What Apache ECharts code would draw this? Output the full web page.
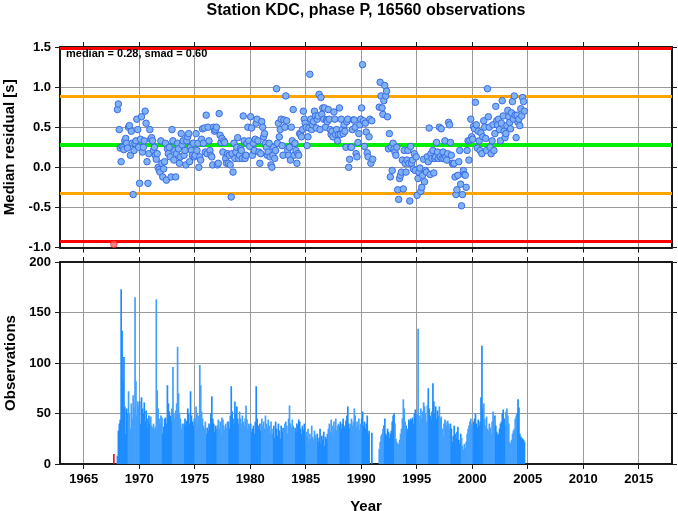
<!DOCTYPE html>
<html><head><meta charset="utf-8">
<script src="https://cdn.jsdelivr.net/npm/echarts@6/dist/echarts.min.js"></script>
<style>html,body{margin:0;padding:0;background:#fff}#c{width:678px;height:511px}</style>
</head><body><div id="c"></div>
<script>
// ---------- data ----------
const firstYear = 1968;
// monthly observation counts, one row per year (1968 .. 2004)
const obsCounts = [
  [8, 33, 40, 44, 173, 132, 82, 106, 57, 30, 55, 50],
  [72, 50, 35, 60, 45, 68, 56, 165, 82, 48, 62, 58],
  [62, 40, 66, 55, 50, 61, 42, 53, 36, 45, 48, 40],
  [47, 38, 36, 40, 35, 37, 163, 73, 55, 45, 40, 48],
  [46, 30, 37, 45, 46, 40, 78, 60, 52, 48, 42, 55],
  [96, 50, 45, 53, 60, 116, 70, 51, 45, 35, 40, 38],
  [40, 45, 38, 43, 55, 50, 40, 72, 48, 42, 38, 45],
  [45, 57, 50, 40, 48, 98, 78, 52, 45, 38, 35, 42],
  [30, 36, 33, 40, 38, 50, 67, 45, 40, 32, 38, 35],
  [38, 44, 35, 42, 30, 46, 44, 38, 34, 40, 36, 42],
  [42, 35, 48, 77, 52, 45, 40, 62, 50, 57, 45, 40],
  [52, 45, 40, 48, 42, 38, 45, 58, 44, 35, 40, 38],
  [40, 32, 35, 38, 30, 42, 77, 45, 38, 35, 40, 33],
  [45, 38, 42, 35, 48, 40, 36, 44, 38, 30, 42, 35],
  [30, 38, 26, 42, 35, 28, 40, 33, 25, 38, 32, 36],
  [35, 40, 42, 38, 30, 45, 58, 40, 36, 44, 38, 32],
  [36, 32, 40, 38, 44, 42, 35, 30, 38, 34, 40, 28],
  [32, 28, 35, 22, 30, 25, 38, 27, 24, 33, 29, 26],
  [30, 22, 26, 35, 20, 28, 24, 32, 18, 27, 25, 30],
  [35, 40, 32, 44, 38, 30, 42, 36, 45, 33, 38, 40],
  [38, 42, 35, 40, 45, 36, 38, 43, 48, 57, 40, 35],
  [40, 45, 38, 42, 55, 48, 36, 42, 38, 45, 34, 40],
  [45, 52, 38, 42, 35, 40, 48, 30, 33, 0, 0, 31],
  [0, 0, 0, 0, 0, 0, 0, 15, 22, 28, 30, 35],
  [38, 45, 30, 28, 35, 32, 26, 30, 33, 42, 48, 50],
  [40, 25, 22, 20, 20, 24, 30, 35, 45, 64, 55, 42],
  [38, 32, 35, 44, 42, 45, 43, 46, 40, 50, 54, 48],
  [50, 134, 48, 40, 55, 45, 52, 61, 57, 50, 42, 58],
  [75, 55, 48, 44, 52, 80, 62, 50, 57, 45, 53, 48],
  [57, 45, 47, 35, 28, 40, 44, 42, 38, 43, 40, 36],
  [40, 35, 22, 28, 38, 30, 25, 32, 37, 24, 20, 30],
  [26, 18, 14, 20, 16, 22, 30, 35, 38, 42, 45, 40],
  [38, 42, 45, 50, 40, 36, 44, 38, 42, 66, 117, 55],
  [60, 45, 38, 47, 35, 33, 40, 36, 30, 42, 52, 45],
  [48, 38, 32, 29, 30, 35, 40, 42, 50, 54, 45, 38],
  [52, 55, 48, 40, 22, 20, 24, 30, 33, 35, 45, 48],
  [50, 64, 56, 30, 27, 26, 25, 24, 22]
];
// monthly median residuals [s], one row per year (1968 .. 2004); null = no value
const residuals = [
  [0.72, 0.79, 0.47, 0.24, 0.07, 0.26, 0.25, 0.22, 0.33, 0.36, 0.30, 0.24],
  [0.50, 0.52, 0.15, 0.45, 0.30, -0.34, 0.21, 0.30, 0.33, 0.60, 0.47, 0.25],
  [-0.20, 0.35, 0.63, 0.19, 0.25, 0.33, 0.70, 0.55, 0.07, -0.20, 0.17, 0.47],
  [0.35, 0.37, 0.33, 0.21, 0.25, 0.15, 0.10, 0.17, 0.00, -0.03, -0.06, 0.33],
  [0.05, -0.12, -0.02, 0.07, 0.30, -0.16, 0.23, 0.17, 0.25, 0.13, -0.12, 0.47],
  [0.33, 0.09, 0.21, -0.12, 0.17, 0.30, 0.23, 0.05, 0.13, 0.42, 0.28, 0.33],
  [0.15, 0.21, 0.03, 0.33, 0.38, 0.42, 0.07, 0.25, 0.21, 0.15, 0.30, 0.13],
  [0.15, 0.42, 0.21, 0.30, 0.00, 0.13, 0.09, 0.35, 0.48, 0.30, 0.49, 0.19],
  [0.65, 0.17, 0.50, 0.33, 0.21, 0.15, 0.13, 0.03, 0.50, 0.45, 0.47, 0.50],
  [0.03, 0.05, 0.67, 0.40, 0.31, 0.36, 0.19, 0.33, 0.31, 0.11, 0.05, 0.17],
  [0.05, 0.15, 0.03, -0.37, 0.17, -0.06, 0.30, 0.11, 0.19, 0.25, 0.37, 0.11],
  [0.15, 0.23, 0.21, 0.11, 0.64, 0.33, 0.11, 0.15, 0.30, 0.50, 0.33, 0.26],
  [0.63, 0.49, 0.15, 0.30, 0.21, 0.35, 0.55, 0.60, 0.33, 0.19, 0.05, 0.17],
  [0.57, 0.50, 0.38, 0.42, 0.30, 0.25, 0.15, 0.19, 0.30, 0.13, 0.03, 0.00],
  [0.15, 0.25, 0.11, 0.21, 0.98, 0.30, 0.55, 0.38, 0.47, 0.60, 0.27, 0.15],
  [0.59, 0.50, 0.89, 0.58, 0.21, 0.15, 0.25, 0.09, 0.50, 0.33, 0.72, 0.15],
  [0.30, 0.21, 0.05, 0.17, 0.15, 0.42, 0.41, 0.38, 0.47, 0.70, 0.60, 0.55],
  [0.50, 0.27, 0.38, 0.49, 1.16, 0.60, 0.47, 0.53, 0.57, 0.70, 0.64, 0.49],
  [0.60, 0.64, 0.91, 0.47, 0.87, 0.66, 0.74, 0.60, 0.74, 0.50, 0.59, 0.57],
  [0.72, 0.60, 0.47, 0.41, 0.45, 0.38, 0.69, 0.60, 0.41, 0.47, 0.33, 0.41],
  [0.74, 0.41, 0.60, 0.47, 0.42, 0.53, 0.45, 0.25, 0.57, 0.60, 0.00, 0.10],
  [0.25, 0.25, 0.47, 0.59, 0.59, 0.50, 0.17, 0.13, 0.31, 0.42, 0.53, 0.60],
  [0.74, 1.28, 0.58, 0.26, 0.55, 0.44, 0.18, 0.13, 0.38, 0.60, 0.05, 0.58],
  [0.10, null, null, null, null, null, null, 0.75, 1.06, 0.89, 0.74, 0.66],
  [0.83, 1.02, 0.89, 0.95, 0.63, 0.23, 0.42, -0.12, 0.25, -0.04, 0.30, 0.23],
  [0.19, 0.15, 0.25, -0.28, -0.40, -0.14, -0.10, -0.06, 0.09, -0.27, 0.21, 0.05],
  [-0.06, 0.09, 0.21, 0.05, -0.42, 0.26, 0.05, 0.09, -0.02, 0.17, -0.04, 0.13],
  [-0.35, -0.14, -0.06, -0.01, -0.30, -0.25, -0.10, 0.10, -0.18, -0.04, -0.06, 0.13],
  [0.07, 0.49, -0.09, 0.17, 0.11, 0.21, -0.07, 0.11, 0.13, 0.31, 0.19, 0.11],
  [0.50, 0.13, 0.48, 0.11, 0.19, 0.11, 0.33, 0.13, 0.09, 0.17, 0.56, 0.53],
  [0.31, 0.15, 0.05, 0.04, 0.05, -0.12, -0.34, -0.28, -0.10, 0.07, 0.21, -0.21],
  [-0.48, -0.34, -0.04, -0.09, -0.10, -0.25, 0.21, 0.33, 0.09, 0.34, 0.60, 0.38],
  [0.35, 0.51, 0.48, 0.81, 0.53, 0.24, 0.45, 0.33, 0.21, 0.43, 0.17, 0.38],
  [0.58, 0.50, 0.36, 0.21, 0.98, 0.63, 0.50, 0.25, 0.17, 0.33, 0.53, 0.21],
  [0.42, 0.76, 0.58, 0.53, 0.60, 0.47, 0.33, 0.55, 0.83, 0.64, 0.45, 0.37],
  [0.42, 0.52, 0.71, 0.63, 0.56, 0.48, 0.68, 0.82, 0.60, 0.89, 0.65, 0.37],
  [0.65, 0.56, 0.60, 0.52, 0.73, 0.64, 0.87, 0.82, 0.70]
];
// rejected (out-of-range) point
const outlierTime = 1967.72;
const outlierResidual = -0.96;
const outlierCount = 10;
// statistics
const medianValue = 0.28;
const smadValue = 0.60;
// axes
const tickYears = [1965, 1970, 1975, 1980, 1985, 1990, 1995, 2000, 2005, 2010, 2015];
const residTicks = [-1.0, -0.5, 0.0, 0.5, 1.0, 1.5];
const obsTicks = [0, 50, 100, 150, 200];
const xMin = 1962.87, xMax = 2018.0;

// ---------- build series data ----------
const barsDark = [], barsLight = [], points = [];
obsCounts.forEach((row, yi) => {
  row.forEach((v, m) => {
    const t = firstYear + yi + (m + 0.5) / 12;
    ((yi % 2 === 0) ? barsDark : barsLight).push([t, v]);
  });
});
residuals.forEach((row, yi) => {
  row.forEach((v, m) => {
    if (v !== null) points.push([firstYear + yi + (m + 0.5) / 12, v]);
  });
});

const FONT = 'Liberation Sans';
const frameLine = { show: true, onZero: false, lineStyle: { color: '#1a1a1a', width: 2 } };
const tickStyle = { show: true, length: 5, inside: false, lineStyle: { color: '#1a1a1a', width: 1 } };
const gridLine = { show: true, lineStyle: { color: '#9a9a9a', width: 1 } };
const lblStyle = { color: '#000', fontFamily: FONT, fontWeight: 'bold', fontSize: 13 };

function xAxes(gi, showLabels) {
  return [
    { gridIndex: gi, type: 'value', min: xMin, max: xMax, position: 'bottom',
      axisLine: frameLine,
      axisTick: Object.assign({ customValues: tickYears }, tickStyle),
      axisLabel: Object.assign({ show: showLabels, customValues: tickYears, margin: 9, formatter: v => String(Math.round(v)) }, lblStyle),
      splitLine: gridLine,
      name: showLabels ? 'Year' : '', nameLocation: 'middle', nameGap: 35,
      nameTextStyle: { color: '#000', fontFamily: FONT, fontWeight: 'bold', fontSize: 15 } },
    { gridIndex: gi, type: 'value', min: xMin, max: xMax, position: 'top',
      axisLine: frameLine,
      axisTick: Object.assign({ customValues: tickYears }, tickStyle),
      axisLabel: { show: false, customValues: tickYears },
      splitLine: { show: false } }
  ];
}
function yAxes(gi, min, max, interval, ticks, name, fmt) {
  return [
    { gridIndex: gi, type: 'value', min, max, interval, position: 'left',
      axisLine: frameLine, axisTick: tickStyle,
      axisLabel: Object.assign({ margin: 9, formatter: fmt }, lblStyle),
      splitLine: gridLine,
      name, nameLocation: 'middle', nameGap: 37, nameRotate: 90,
      nameTextStyle: { color: '#000', fontFamily: FONT, fontWeight: 'bold', fontSize: 15 } },
    { gridIndex: gi, type: 'value', min, max, interval, position: 'right',
      axisLine: frameLine, axisTick: tickStyle,
      axisLabel: { show: false }, splitLine: { show: false } }
  ];
}

const refLines = [
  { y: medianValue + 2 * smadValue, color: '#ff0000', w: 3 },
  { y: medianValue + smadValue, color: '#ffa500', w: 3 },
  { y: medianValue, color: '#00ee00', w: 4 },
  { y: medianValue - smadValue, color: '#ffa500', w: 3 },
  { y: medianValue - 2 * smadValue, color: '#ff0000', w: 3 }
];

const chart = echarts.init(document.getElementById('c'), null, { renderer: 'canvas' });
chart.setOption({
  animation: false,
  backgroundColor: '#fff',
  textStyle: { fontFamily: FONT },
  grid: [
    { left: 60, right: 6, top: 47, height: 200.5, containLabel: false, outerBoundsMode: 'none' },
    { left: 60, right: 6, top: 262, height: 202, containLabel: false, outerBoundsMode: 'none' }
  ],
  xAxis: [...xAxes(0, false), ...xAxes(1, true)],
  yAxis: [
    ...yAxes(0, -1, 1.5, 0.5, residTicks, 'Median residual [s]', v => v.toFixed(1)),
    ...yAxes(1, 0, 200, 50, obsTicks, 'Observations', v => String(v))
  ],
  graphic: [
    { type: 'text', x: 366, y: 11, style: { text: 'Station KDC, phase P, 16560 observations',
      font: 'bold 16px "' + FONT + '"', fill: '#000', textAlign: 'center', textVerticalAlign: 'middle' } },
    { type: 'text', x: 66, y: 54, z: 10, style: { text: 'median = ' + medianValue.toFixed(2) + ', smad = ' + smadValue.toFixed(2),
      font: 'bold 11px "' + FONT + '"', fill: '#000', textAlign: 'left', textVerticalAlign: 'middle' } }
  ],
  series: [
    { type: 'line', xAxisIndex: 0, yAxisIndex: 0, data: [], z: 2, silent: true,
      markLine: { silent: true, symbol: ['none', 'none'], label: { show: false }, animation: false,
        data: refLines.map(r => ({ yAxis: r.y, lineStyle: { color: r.color, width: r.w, type: 'solid' } })) } },
    { type: 'scatter', xAxisIndex: 0, yAxisIndex: 0, data: points, z: 5, symbolSize: 6.5,
      itemStyle: { color: '#7fb2f4', borderColor: '#3a6be6', borderWidth: 1, opacity: 1 } },
    { type: 'scatter', xAxisIndex: 0, yAxisIndex: 0, data: [[outlierTime, outlierResidual]], z: 5, symbolSize: 6.5,
      itemStyle: { color: '#ff6060', borderColor: '#ff3030', borderWidth: 1 } },
    { type: 'bar', xAxisIndex: 2, yAxisIndex: 2, data: barsDark, barWidth: 1.7, barGap: '-100%',
      itemStyle: { color: '#1e8cff' } },
    { type: 'bar', xAxisIndex: 2, yAxisIndex: 2, data: barsLight, barWidth: 1.7, barGap: '-100%',
      itemStyle: { color: '#42a0ff' } },
    { type: 'bar', xAxisIndex: 2, yAxisIndex: 2, data: [[outlierTime, outlierCount]], barWidth: 1.6, barGap: '-100%',
      itemStyle: { color: '#ff0000' } }
  ]
});
</script>
</body></html>
